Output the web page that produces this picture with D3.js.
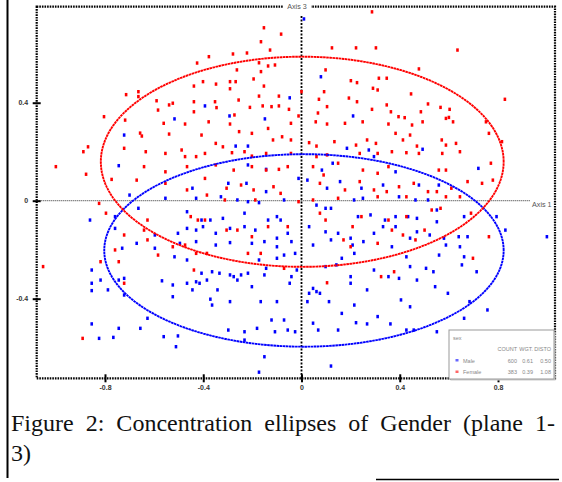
<!DOCTYPE html>
<html>
<head>
<meta charset="utf-8">
<script src="https://cdn.jsdelivr.net/npm/d3@7"></script>
<style>
body{margin:0;background:#fff;}
svg{display:block;}
</style>
</head>
<body>
<svg id="canvas"></svg>
<script>
let width = 562
let height = 482

let xTicks = [-0.8, -0.4, 0, 0.4, 0.8]
let yTicks = [-0.4, 0, 0.4]

let groups = ['Male', 'Female']
let groupColors = ['#0000ff', '#ff0000']
// concentration ellipses: centre and half axes
let ellCx = [0.010, 0.003]
let ellCy = [-0.203, 0.159]
let ellRx = [0.813, 0.820]
let ellRy = [0.393, 0.429]

let legendTitle = 'sex'
let legendCols = ['COUNT', 'WGT.', 'DISTO']
let legendVals = [['600', '0.61', '0.50'], ['383', '0.39', '1.08']]

let captionLine1 = 'Figure 2: Concentration ellipses of Gender (plane 1-'
let captionLine2 = '3)'

let femalePts = [
[0.287,0.771],[-0.153,0.706],[-0.083,0.680],[-0.165,0.649],[0.222,0.624],[0.303,0.624],[0.124,0.624],[0.635,0.615],[-0.128,0.615],[-0.279,0.599],
[-0.222,0.603],[-0.377,0.588],[-0.425,0.562],[-0.173,0.563],[-0.136,0.550],[-0.108,0.554],[-0.263,0.534],[-0.165,0.527],[0.098,0.534],[0.478,0.538],
[-0.401,0.486],[-0.348,0.476],[-0.291,0.486],[-0.268,0.486],[-0.195,0.497],[-0.153,0.468],[0.201,0.490],[0.226,0.482],[0.315,0.500],[0.347,0.500],
[-0.438,0.468],[-0.291,0.457],[0.000,0.445],[0.092,0.445],[0.291,0.459],[0.310,0.452],[0.446,0.436],[-0.664,0.445],[-0.664,0.425],[-0.714,0.433],
[-0.173,0.427],[-0.092,0.427],[0.193,0.419],[0.071,0.414],[0.226,0.404],[0.828,0.414],[-0.590,0.408],[-0.524,0.398],[-0.539,0.391],[-0.438,0.404],
[-0.352,0.404],[-0.256,0.411],[-0.122,0.384],[-0.092,0.387],[-0.051,0.373],[-0.346,0.380],[-0.584,0.370],[-0.438,0.363],[-0.210,0.381],[-0.158,0.387],
[0.104,0.384],[0.287,0.373],[0.347,0.391],[0.364,0.363],[0.515,0.395],[0.566,0.381],[0.603,0.373],[0.486,0.363],[0.395,0.343],[0.420,0.339],
[0.600,0.340],[0.588,0.336],[-0.012,0.346],[-0.273,0.350],[-0.804,0.343],[0.067,0.358],
[-0.718,0.329],[-0.561,0.316],[-0.474,0.313],[-0.378,0.322],[-0.291,0.313],[-0.254,0.282],[-0.202,0.275],[-0.136,0.295],[-0.043,0.316],[0.058,0.322],
[0.104,0.313],[0.177,0.316],[0.249,0.322],[0.354,0.313],[0.450,0.309],[0.493,0.322],[0.617,0.322],[0.751,0.322],[-0.650,0.264],[-0.407,0.268],
[-0.657,0.276],[-0.539,0.272],[-0.116,0.248],[-0.079,0.261],[-0.043,0.248],[0.031,0.237],[0.061,0.223],[0.134,0.241],[0.222,0.227],[0.267,0.248],
[0.303,0.234],[0.383,0.275],[0.442,0.268],[0.413,0.248],[0.470,0.223],[0.571,0.248],[0.588,0.227],[0.629,0.234],[0.645,0.200],[0.573,0.193],
[0.763,0.275],[0.816,0.241],[-0.349,0.234],[-0.320,0.220],[-0.283,0.196],[-0.232,0.200],[-0.202,0.182],[-0.144,0.193],[-0.043,0.193],[0.061,0.180],
[0.104,0.187],[0.237,0.193],[0.310,0.193],[0.368,0.200],[0.427,0.196],[0.478,0.193],[-0.429,0.180],[-0.554,0.193],[-0.488,0.207],[-0.393,0.193],
[-0.474,0.180],[-0.634,0.200],[-0.722,0.214],[-0.869,0.220],[-0.888,0.200],[-1.000,0.139],[-0.877,0.108],[-0.773,0.087],[-0.641,0.139],[-0.554,0.118],
[-0.466,0.139],[-0.393,0.091],[-0.349,0.146],[-0.276,0.125],[-0.202,0.139],[-0.144,0.125],[-0.092,0.128],[-0.056,0.139],[0.047,0.139],[0.090,0.105],
[0.149,0.153],[0.250,0.125],[0.310,0.112],[0.354,0.139],[0.559,0.125],[0.588,0.125],[0.676,0.078],[0.779,0.084],[0.771,0.153],
[-0.671,0.084],[-0.554,0.071],[-0.466,0.044],[-0.385,0.023],[-0.305,0.051],[-0.246,0.064],[-0.195,0.044],[-0.114,0.057],[-0.085,0.030],[0.075,0.071],
[0.149,0.010],[0.177,0.044],[0.237,0.078],[0.295,0.044],[0.347,0.037],[0.397,0.057],[0.427,0.016],[0.457,0.071],[0.515,0.037],[0.551,0.037],
[0.610,0.051],[0.735,0.071],[0.588,0.016],[0.645,0.016],[-0.312,0.003],[-0.188,0.003],[-0.012,-0.004],[0.047,0.003],[0.310,0.016],
[-0.824,-0.011],[-0.796,-0.051],[-0.627,-0.079],[-0.451,-0.065],[-0.422,-0.079],[-0.393,-0.079],[-0.305,-0.120],[-0.261,-0.120],[-0.202,-0.147],[-0.136,-0.106],
[-0.056,-0.106],[0.075,-0.051],[0.098,-0.079],[0.208,-0.106],[0.244,-0.065],[0.354,-0.079],[0.368,-0.120],[0.427,-0.065],[0.501,-0.120],[0.530,-0.038],
[0.566,-0.031],[0.690,-0.051],[0.763,-0.147],[-0.722,-0.140],[-0.641,-0.120],[-0.627,-0.160],[-0.524,-0.188],[-0.474,-0.181],[0.171,-0.160],[0.413,-0.140],
[0.464,-0.160],[0.310,-0.174],[0.200,-0.188],
[-1.052,-0.269],[-0.818,-0.249],[-0.722,-0.337],[-0.744,-0.249],[-0.759,-0.201],[-0.438,-0.283],[-0.429,-0.215],[-0.385,-0.215],[-0.218,-0.215],[-0.166,-0.215],
[-0.071,-0.276],[0.104,-0.335],[0.324,-0.310],[0.377,-0.290],[0.698,-0.235],[-0.891,-0.562],[-0.584,-0.222]
]

let malePts = [
[0.010,0.742],[0.079,0.506],[-0.048,0.420],[-0.393,0.387],[-0.293,0.346],[-0.517,0.334],[-0.149,0.334],[0.210,0.346],
[-0.722,0.268],[-0.268,0.223],[-0.218,0.223],[0.185,0.214],[0.274,0.207],[0.493,0.210],[0.295,0.180],[-0.744,0.143],[-0.218,0.146],[-0.144,0.128],
[0.083,0.125],[0.127,0.153],[0.383,0.118],[0.720,0.132],[-0.298,0.071],[-0.224,0.071],[-0.144,0.037],[-0.012,0.091],[0.024,0.084],[0.104,0.051],
[0.157,0.078],[0.244,0.051],[0.332,0.064],[0.397,0.016],[0.478,0.064],[0.559,0.064],[-0.444,0.051],[-0.429,0.010],[-0.328,0.016],[-0.700,0.023],
[-0.554,0.010],[-0.261,0.003],[-0.218,-0.004],[-0.173,-0.008],[-0.071,0.003],[0.214,0.003],[0.250,0.010],[0.464,0.003],[0.515,0.003],
[-0.861,-0.079],[-0.759,-0.065],[-0.664,-0.031],[-0.466,-0.045],[-0.407,-0.079],[-0.371,-0.079],[-0.320,-0.072],[-0.232,-0.051],[-0.136,-0.079],[-0.100,-0.065],
[-0.085,-0.079],[0.061,-0.018],[0.098,-0.031],[0.120,-0.031],[0.230,-0.065],[0.281,-0.058],[0.340,-0.079],[0.383,-0.065],[0.434,-0.065],[0.470,-0.072],
[0.551,-0.038],[0.551,-0.086],[0.662,-0.065],[0.794,-0.065],[0.830,-0.120],[0.999,-0.147],[-0.759,-0.113],[-0.671,-0.174],[-0.597,-0.140],[-0.503,-0.133],
[-0.466,-0.113],[-0.429,-0.120],[-0.401,-0.106],[-0.349,-0.133],[-0.291,-0.113],[-0.232,-0.106],[-0.188,-0.120],[-0.100,-0.153],[-0.056,-0.133],[0.031,-0.106],
[0.098,-0.127],[0.149,-0.133],[0.200,-0.153],[0.295,-0.133],[0.332,-0.106],[0.383,-0.106],[0.470,-0.127],[0.522,-0.140],[0.580,-0.153],[0.640,-0.147],
[0.676,-0.147],[-0.495,-0.174],[-0.429,-0.167],[-0.349,-0.181],[-0.291,-0.171],[-0.202,-0.174],[-0.151,-0.167],[-0.100,-0.188],[-0.041,-0.167],[0.047,-0.181],
[0.120,-0.160],[0.208,-0.181],[0.252,-0.167],[0.368,-0.188],[0.442,-0.153],[0.588,-0.181],[0.645,-0.188],[-0.730,-0.194],[-0.597,-0.194],
[-0.854,-0.283],[-0.854,-0.337],[-0.818,-0.324],[-0.854,-0.367],[-0.788,-0.364],[-0.744,-0.324],[-0.722,-0.317],[-0.722,-0.385],[-0.854,-0.503],[-0.824,-0.562],
[-0.766,-0.558],[-0.744,-0.521],[-0.656,-0.521],[-0.627,-0.480],[-0.561,-0.555],[-0.511,-0.596],[-0.503,-0.552],[-0.568,-0.327],[-0.524,-0.344],[-0.524,-0.392],
[-0.517,-0.229],[-0.466,-0.242],[-0.466,-0.337],[-0.444,-0.364],[-0.429,-0.331],[-0.415,-0.337],[-0.407,-0.296],[-0.385,-0.324],[-0.364,-0.290],[-0.342,-0.364],
[-0.334,-0.296],[-0.291,-0.303],[-0.276,-0.310],[-0.261,-0.324],[-0.246,-0.303],[-0.371,-0.402],[-0.364,-0.426],[-0.291,-0.412],[-0.218,-0.296],[-0.202,-0.351],
[-0.166,-0.412],[-0.151,-0.303],[-0.144,-0.276],[-0.100,-0.412],[-0.173,-0.242],[-0.100,-0.235],[-0.071,-0.222],[-0.048,-0.337],[-0.041,-0.310],[-0.019,-0.283],
[-0.026,-0.215],[0.024,-0.412],[0.031,-0.378],[0.047,-0.358],[0.061,-0.371],[0.075,-0.378],[0.112,-0.412],[0.098,-0.269],[0.142,-0.262],[0.164,-0.235],
[0.215,-0.215],[0.200,-0.310],[0.200,-0.337],[0.215,-0.426],[0.267,-0.364],[0.295,-0.283],[0.354,-0.310],[0.397,-0.317],[0.427,-0.229],[0.442,-0.269],
[0.470,-0.324],[0.507,-0.276],[0.537,-0.290],[0.544,-0.351],[0.560,-0.222],[0.596,-0.378],[0.653,-0.262],[0.662,-0.229],[0.713,-0.290],[0.405,-0.405],
[0.442,-0.433],[0.684,-0.412],[0.757,-0.446],[0.662,-0.480],[0.551,-0.535],[0.457,-0.528],[0.427,-0.528],[0.362,-0.503],[0.310,-0.473],[0.164,-0.460],
[0.222,-0.498],[0.267,-0.503],[0.149,-0.528],[0.068,-0.528],[0.047,-0.500],[-0.056,-0.528],[-0.071,-0.487],[-0.026,-0.535],[-0.108,-0.535],[-0.181,-0.521],
[-0.232,-0.535],[-0.232,-0.569],[-0.298,-0.528],[-0.122,-0.487],[-0.151,-0.637],[-0.173,-0.700],[0.120,-0.675]
]

let svg = d3.select('#canvas').attr('width', width).attr('height', height)

// frame of the plot area
let xScale = d3.scaleLinear().domain([-1.078, 1.032]).range([36.7, 555])
let yScale = d3.scaleLinear().domain([-0.725, 0.792]).range([378.3, 6.7])

let x0 = xScale.range()[0], x1 = xScale.range()[1]
let yB = yScale.range()[0], yT = yScale.range()[1]

// page rules
svg.append('line').attr('x1', 7.5).attr('x2', 7.5).attr('y1', 0).attr('y2', 478)
    .attr('stroke', '#000').attr('stroke-width', 2)
svg.append('line').attr('x1', 376).attr('x2', 559).attr('y1', 479.5).attr('y2', 479.5)
    .attr('stroke', '#000').attr('stroke-width', 1.4)

let plot = svg.append('g')

// axis lines through origin
plot.append('line')
    .attr('x1', x0).attr('x2', 530)
    .attr('y1', yScale(0)).attr('y2', yScale(0))
    .attr('stroke', '#555').attr('stroke-width', 1.3).attr('stroke-dasharray', '1,1')
plot.append('line')
    .attr('x1', xScale(0)).attr('x2', xScale(0))
    .attr('y1', 16).attr('y2', yB)
    .attr('stroke', '#000').attr('stroke-width', 1.8).attr('stroke-dasharray', '2,1.5')

// points
let pointSets = [malePts, femalePts]
pointSets.forEach((pts, i) => {
    plot.append('g').selectAll('rect')
        .data(pts)
        .enter().append('rect')
        .attr('x', d => xScale(d[0]) - 1.3)
        .attr('y', d => yScale(d[1]) - 1.7)
        .attr('width', 2.6)
        .attr('height', 3.4)
        .attr('fill', groupColors[i])
})

// ellipses
let angles = d3.range(0, 361, 2)
let ellLine = d3.line().x(d => xScale(d[0])).y(d => yScale(d[1]))
groups.forEach((g, i) => {
    let pts = angles.map(a => {
        let t = a * Math.PI / 180
        return [ellCx[i] + ellRx[i] * Math.cos(t), ellCy[i] + ellRy[i] * Math.sin(t)]
    })
    plot.append('path')
        .attr('d', ellLine(pts))
        .attr('fill', 'none')
        .attr('stroke', groupColors[i])
        .attr('stroke-width', 1.9)
        .attr('stroke-dasharray', '2.6,0.5')
})

// frame (dotted)
plot.append('rect')
    .attr('x', x0).attr('y', yT)
    .attr('width', x1 - x0).attr('height', yB - yT)
    .attr('fill', 'none').attr('stroke', '#000')
    .attr('stroke-width', 2.2).attr('stroke-dasharray', '1.6,1')

// ticks crossing the frame
let fmt = d => String(d)
let yAxis = d3.axisLeft(yScale).tickValues(yTicks).tickFormat(fmt)
    .tickSizeInner(8).tickSizeOuter(0).tickPadding(4.5)
let gy = svg.append('g').attr('transform', 'translate(' + (x0 + 4) + ',0)').call(yAxis)
let xAxis = d3.axisBottom(xScale).tickValues(xTicks).tickFormat(fmt)
    .tickSizeInner(8).tickSizeOuter(0).tickPadding(3)
let gx = svg.append('g').attr('transform', 'translate(0,' + (yB - 4) + ')').call(xAxis)
;[gx, gy].forEach(g => {
    g.select('.domain').remove()
    g.selectAll('.tick line').attr('stroke', '#000').attr('stroke-width', 2)
    g.selectAll('.tick text').attr('font-family', 'Liberation Sans, Arial, sans-serif')
        .attr('font-size', 7).attr('font-weight', 'bold').attr('fill', '#333')
})

// axis names
let axis3 = svg.append('g')
axis3.append('rect').attr('x', 283).attr('y', 2).attr('width', 28).attr('height', 10).attr('fill', '#fff')
axis3.append('text').attr('x', 297).attr('y', 7.5)
    .attr('text-anchor', 'middle').attr('dominant-baseline', 'middle')
    .attr('font-family', 'Liberation Sans, Arial, sans-serif').attr('font-size', 7.2).attr('fill', '#555')
    .text('Axis 3')
svg.append('text').attr('x', 532).attr('y', 205)
    .attr('dominant-baseline', 'middle')
    .attr('font-family', 'Liberation Sans, Arial, sans-serif').attr('font-size', 7.2).attr('fill', '#555')
    .text('Axis 1')

// legend box
let lg = svg.append('g')
lg.append('rect').attr('x', 450.5).attr('y', 331.5).attr('width', 105).attr('height', 49).attr('fill', '#ccc')
lg.append('rect').attr('x', 449).attr('y', 330).attr('width', 105).attr('height', 49)
    .attr('fill', '#fff').attr('stroke', '#999').attr('stroke-width', 1)
let lgFont = 'Liberation Sans, Arial, sans-serif'
lg.append('text').attr('x', 453).attr('y', 340).attr('font-family', lgFont)
    .attr('font-size', 5.5).attr('fill', '#888').text(legendTitle)
let colRight = [517, 533, 551]
legendCols.forEach((c, j) => {
    lg.append('text').attr('x', colRight[j]).attr('y', 351).attr('text-anchor', 'end')
        .attr('font-family', lgFont).attr('font-size', 5.5).attr('fill', '#888').text(c)
})
groups.forEach((g, i) => {
    let ry = 362.5 + i * 11.5
    lg.append('rect').attr('x', 455.5).attr('y', ry - 3.5).attr('width', 3).attr('height', 2.5)
        .attr('fill', groupColors[i]).attr('opacity', 0.6)
    lg.append('text').attr('x', 463).attr('y', ry).attr('font-family', lgFont)
        .attr('font-size', 5.5).attr('fill', '#888').text(g)
    legendVals[i].forEach((v, j) => {
        lg.append('text').attr('x', colRight[j]).attr('y', ry).attr('text-anchor', 'end')
            .attr('font-family', lgFont).attr('font-size', 5.5).attr('fill', '#888').text(v)
    })
})

// caption, first line justified to the right edge
let capFont = 'Liberation Serif, Times New Roman, serif'
let cap1 = svg.append('text').attr('x', 11).attr('y', 431)
    .attr('font-family', capFont).attr('font-size', 24).attr('fill', '#111')
    .text(captionLine1)
let natural = cap1.node().getComputedTextLength()
let gaps = captionLine1.split(' ').length - 1
cap1.attr('word-spacing', (555 - 11 - natural) / gaps)
svg.append('text').attr('x', 11).attr('y', 461)
    .attr('font-family', capFont).attr('font-size', 24).attr('fill', '#111')
    .text(captionLine2)
</script>
</body>
</html>
